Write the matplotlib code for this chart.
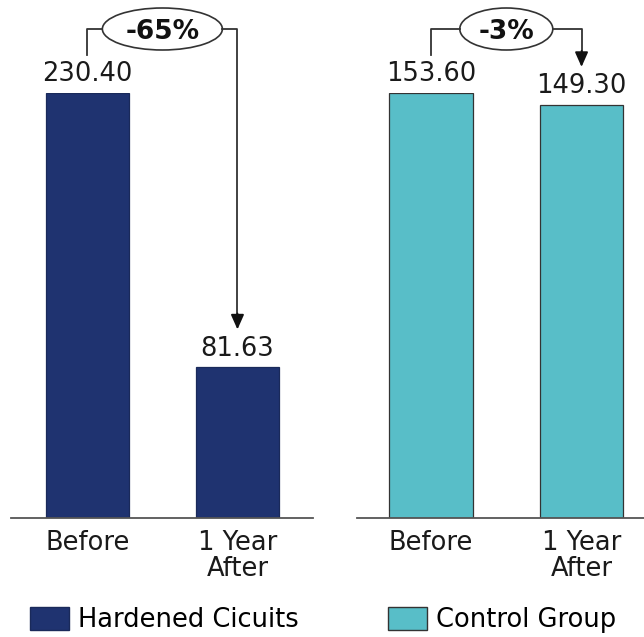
import matplotlib
matplotlib.use("Agg")
import matplotlib.pyplot as plt
from matplotlib.patches import Ellipse, Patch

categories = ["Before", "1 Year\nAfter"]
hardened = [230.40, 81.63]
control = [153.60, 149.30]
hardened_label = "Hardened Cicuits"
control_label = "Control Group"
hardened_change = "-65%"
control_change = "-3%"

NAVY = "#1f3370"
TEAL = "#58bec8"
W, H = 644, 637

plt.rcParams["font.family"] = ["DejaVu Sans"]
fig = plt.figure(figsize=(W / 100, H / 100), dpi=100)


def px_box(x0, x1, ytop, ybot):
    return [x0 / W, (H - ybot) / H, (x1 - x0) / W, (ybot - ytop) / H]


ax1 = fig.add_axes(px_box(11, 313, 93, 518))
ax2 = fig.add_axes(px_box(357, 644, 93, 518))


def draw_panel(ax, values, color, edge, xlim):
    x = range(len(values))
    ax.bar(x, values, width=0.555, color=color, edgecolor=edge, linewidth=0.9)
    ax.set_ylim(0, max(values))
    ax.set_xlim(*xlim)
    for s in ["top", "left", "right"]:
        ax.spines[s].set_visible(False)
    ax.spines["bottom"].set_color("#555555")
    ax.spines["bottom"].set_linewidth(1.3)
    ax.set_yticks([])
    ax.set_xticks(list(x))
    ax.set_xticklabels(categories, fontsize=18.5, linespacing=0.95, color="#1a1a1a")
    ax.tick_params(axis="x", length=0, pad=9)
    for xi, v in zip(x, values):
        ax.annotate(f"{v:.2f}", (xi, v), xytext=(0, 4), textcoords="offset points",
                    ha="center", va="bottom", fontsize=18.5, color="#1a1a1a",
                    annotation_clip=False)


def to_data(ax, px_x, px_y):
    # pixel offsets -> data units
    sx = ax.transData.transform((1, 0))[0] - ax.transData.transform((0, 0))[0]
    sy = ax.transData.transform((0, 1))[1] - ax.transData.transform((0, 0))[1]
    return px_x / sx, px_y / sy


def draw_change(ax, values, label, ell_w):
    _, gap = to_data(ax, 0, 38)
    top = max(values)
    _, lvl = to_data(ax, 0, 64)
    lvl = top + lvl
    ew, eh = to_data(ax, ell_w, 42)
    mid = 0.5
    kw = dict(color="#333333", lw=1.3, clip_on=False)
    ax.plot([0, 0, mid - ew / 2], [values[0] + gap, lvl, lvl], **kw)
    ax.plot([mid + ew / 2, 1, 1], [lvl, lvl, values[1] + gap + to_data(ax, 0, 14)[1]], **kw)
    ax.annotate("", xy=(1, values[1] + gap), xytext=(1, values[1] + gap + to_data(ax, 0, 16)[1]),
                arrowprops=dict(arrowstyle="-|>,head_length=0.9,head_width=0.4",
                                color="#111111", lw=1.3, shrinkA=0, shrinkB=0),
                annotation_clip=False)
    ax.add_patch(Ellipse((mid, lvl), ew, eh, facecolor="white", edgecolor="#333333",
                         lw=1.2, clip_on=False))
    ax.text(mid, lvl, label, ha="center", va="center_baseline", fontsize=19,
            fontweight="bold", color="#111111")


draw_panel(ax1, hardened, NAVY, "#1a2a5a", (-0.508, 1.503))
draw_panel(ax2, control, TEAL, "#333333", (-0.492, 1.415))
draw_change(ax1, hardened, hardened_change, 120)
draw_change(ax2, control, control_change, 93)

fig.legend(handles=[Patch(facecolor=NAVY, edgecolor="#1a2a5a")], labels=[hardened_label],
           loc="center left", bbox_to_anchor=(30 / W, (H - 620) / H), frameon=False,
           fontsize=18.5, handlelength=1.5, handleheight=1.0, handletextpad=0.35,
           borderpad=0, borderaxespad=0)
fig.legend(handles=[Patch(facecolor=TEAL, edgecolor="#333333")], labels=[control_label],
           loc="center left", bbox_to_anchor=(388 / W, (H - 620) / H), frameon=False,
           fontsize=18.5, handlelength=1.5, handleheight=1.0, handletextpad=0.35,
           borderpad=0, borderaxespad=0)

fig.savefig("out.png", dpi=100)
